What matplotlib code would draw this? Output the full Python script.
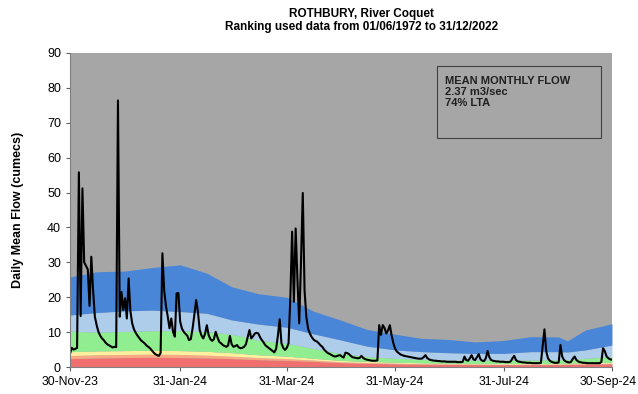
import matplotlib
matplotlib.use('Agg')
import matplotlib.pyplot as plt
import matplotlib.dates as mdates
import matplotlib.transforms as mtransforms
import numpy as np

plt.rcParams['font.family'] = ['Liberation Sans', 'DejaVu Sans']

# daily mean flow, one value per day from 30-Nov-23 to 30-Sep-24
flow = [
    3.8, 5.5, 5.0, 5.2, 5.5, 55.8, 14.6, 51.2, 30.0, 29.0,
    28.0, 17.5, 31.6, 22.0, 14.4, 12.0, 10.1, 9.0, 8.2, 7.7,
    7.0, 6.5, 6.2, 5.9, 5.6, 5.8, 5.7, 76.4, 14.4, 21.5,
    16.3, 19.7, 13.9, 25.4, 16.0, 12.5, 10.8, 9.8, 9.0, 8.3,
    7.6, 7.2, 6.8, 6.2, 5.8, 5.4, 4.8, 4.2, 3.7, 3.4,
    3.2, 4.0, 32.6, 22.0, 17.5, 14.5, 11.1, 13.9, 10.1, 8.7,
    21.1, 21.2, 13.0, 11.0, 10.1, 9.5, 9.0, 7.7, 8.0, 11.1,
    15.0, 19.2, 15.8, 10.6, 9.0, 8.2, 9.5, 12.0, 9.2, 8.0,
    7.5, 8.0, 10.1, 8.5, 7.2, 6.8, 6.3, 6.0, 5.8, 6.2,
    8.9, 6.5, 5.8, 6.0, 6.3, 5.6, 5.4, 5.5, 5.8, 6.5,
    8.5, 10.6, 8.2, 8.8, 9.6, 9.8, 9.6, 8.5, 7.7, 7.0,
    6.2, 5.8, 5.4, 5.0, 4.6, 4.2, 5.2, 9.0, 13.7, 6.8,
    5.5, 4.9, 5.5, 6.8, 20.0, 38.8, 18.7, 39.7, 25.0, 12.5,
    30.0, 49.9, 22.0, 14.4, 11.0, 9.6, 8.6, 7.9, 7.5, 7.3,
    6.8, 6.2, 5.8, 5.0, 4.5, 4.0, 3.8, 3.5, 3.2, 3.0,
    3.1, 3.3, 3.4, 3.0, 2.7, 4.1, 4.0, 3.7, 3.2, 2.8,
    2.7, 2.6, 2.5, 2.6, 3.2, 2.6, 2.3, 2.1, 2.0, 1.9,
    1.8, 1.8, 1.8, 1.9, 12.0, 9.2, 12.0, 11.2, 9.6, 10.5,
    12.0, 9.0, 6.8, 5.2, 4.4, 4.0, 3.6, 3.4, 3.2, 3.1,
    3.0, 2.9, 2.8, 2.7, 2.6, 2.5, 2.4, 2.4, 2.4, 2.8,
    3.4, 2.6, 2.2, 2.0, 1.9, 1.8, 1.8, 1.7, 1.7, 1.6,
    1.6, 1.6, 1.5, 1.5, 1.5, 1.5, 1.5, 1.5, 1.4, 1.4,
    1.4, 1.5, 3.0, 2.0, 1.8, 2.5, 3.4, 2.2, 2.0, 2.8,
    3.7, 2.2, 1.8, 1.7, 2.5, 4.6, 2.8, 2.0, 1.8, 1.7,
    1.6, 1.6, 1.5, 1.5, 1.5, 1.4, 1.4, 1.4, 1.6, 2.5,
    3.2, 2.0, 1.6, 1.5, 1.4, 1.3, 1.3, 1.2, 1.2, 1.2,
    1.1, 1.1, 1.1, 1.1, 1.1, 1.2, 6.0, 10.8, 4.5, 2.5,
    1.8, 1.5, 1.3, 1.2, 1.2, 1.3, 6.3, 3.0, 2.0, 1.6,
    1.4, 1.3, 1.5, 2.4, 3.0, 2.0, 1.6, 1.4, 1.3, 1.2,
    1.2, 1.1, 1.1, 1.1, 1.1, 1.1, 1.1, 1.1, 1.1, 1.4,
    5.4, 4.5, 3.0, 2.5, 2.2, 2.1,
]
flow_dates = np.arange(np.datetime64('2023-11-30'), np.datetime64('2023-11-30') + len(flow))

# percentile band edges
band_dates = np.array(['2023-11-30', '2023-12-15', '2023-12-31', '2024-01-15', '2024-01-31',
                       '2024-02-15', '2024-02-29', '2024-03-15', '2024-03-31', '2024-04-15',
                       '2024-04-30', '2024-05-15', '2024-05-31', '2024-06-15', '2024-06-30',
                       '2024-07-15', '2024-07-31', '2024-08-15', '2024-08-31', '2024-09-05',
                       '2024-09-15', '2024-09-30'], dtype='datetime64[D]')
red_top = [2.4, 2.6, 2.7, 2.8, 2.7, 2.6, 2.4, 2.1, 1.9, 1.6, 1.25, 1.05, 0.9, 0.8, 0.75,
           0.7, 0.68, 0.68, 0.7, 0.72, 0.78, 0.9]
orange_top = [3.3, 3.5, 3.6, 3.7, 3.6, 3.4, 3.1, 2.7, 2.4, 2.0, 1.5, 1.3, 1.1, 0.95, 0.9,
              0.85, 0.8, 0.8, 0.85, 0.9, 0.95, 1.1]
yellow_top = [4.4, 4.6, 4.7, 4.8, 4.7, 4.5, 4.1, 3.5, 3.1, 2.5, 1.9, 1.6, 1.4, 1.2, 1.1,
              1.05, 1.0, 1.0, 1.05, 1.1, 1.2, 1.4]
green_top = [10.3, 10.0, 10.2, 10.4, 10.4, 10.1, 9.4, 7.7, 6.8, 5.3, 3.9, 3.0, 2.5, 2.2, 2.0,
             2.0, 2.0, 2.0, 2.1, 2.1, 2.5, 3.0]
ltblue_top = [14.9, 15.6, 16.1, 16.3, 15.9, 15.4, 13.5, 12.3, 11.4, 9.5, 7.8, 6.0, 4.9, 4.4, 4.1,
              3.9, 3.9, 4.4, 4.4, 4.3, 4.9, 6.3]
blue_top = [25.8, 27.3, 27.5, 28.5, 29.3, 26.9, 23.0, 21.0, 20.0, 16.0, 13.5, 10.8, 9.4, 8.2, 7.9,
            7.2, 7.6, 8.7, 8.6, 7.5, 10.6, 12.4]

fig = plt.figure(figsize=(6.38, 3.94), dpi=100)
ax = fig.add_axes([0.1097, 0.0685, 0.8495, 0.797])
ax.set_facecolor('#A6A6A6')

edges = [np.zeros(len(band_dates)), red_top, orange_top, yellow_top, green_top, ltblue_top, blue_top]
colours = ['#F07070', '#F8A882', '#FFF0A0', '#90EE90', '#ADCDEB', '#4A86D8']
for i, c in enumerate(colours):
    ax.fill_between(band_dates, edges[i], edges[i + 1], color=c, lw=0)

ax.plot(flow_dates, flow, color='black', lw=1.5)

ax.set_xlim(np.datetime64('2023-11-30'), np.datetime64('2024-09-30'))
ax.set_ylim(0, 90)
ax.set_yticks(range(0, 91, 10))
ticks = np.array(['2023-11-30', '2024-01-31', '2024-03-31', '2024-05-31', '2024-07-31', '2024-09-30'],
                 dtype='datetime64[D]')
ax.set_xticks(ticks)
ax.xaxis.set_major_formatter(mdates.DateFormatter('%d-%b-%y'))
ax.tick_params(axis='y', labelsize=9, length=3, color='#606060')
ax.tick_params(axis='x', labelsize=8.8, length=3, color='#606060')
for s in ['top', 'right']:
    ax.spines[s].set_visible(False)
for s in ['left', 'bottom']:
    ax.spines[s].set_color('#808080')

# the last date label sits at the very edge, nudge it in a little
last = ax.get_xticklabels()[-1]
last.set_transform(last.get_transform() + mtransforms.ScaledTranslation(-3 / 72, 0, fig.dpi_scale_trans))

ax.set_ylabel('Daily Mean Flow (cumecs)', fontsize=9, fontweight='bold')
ax.yaxis.set_label_coords(-0.085, 0.5)

fig.text(0.567, 0.965, 'ROTHBURY, River Coquet', ha='center', va='center', fontsize=8.5, fontweight='bold')
fig.text(0.567, 0.932, 'Ranking used data from 01/06/1972 to 31/12/2022', ha='center', va='center',
         fontsize=8.5, fontweight='bold')

box = plt.Rectangle((437 / 638, 1 - 138 / 394), 164 / 638, 72 / 394, transform=fig.transFigure,
                    fill=False, ec='#404040', lw=0.8)
fig.add_artist(box)
fig.text(445 / 638, 1 - 76 / 394, 'MEAN MONTHLY FLOW\n2.37 m3/sec\n74% LTA', ha='left', va='top',
         fontsize=8, fontweight='bold', linespacing=1.15, color='#202020')

fig.savefig('out.png', dpi=100)
